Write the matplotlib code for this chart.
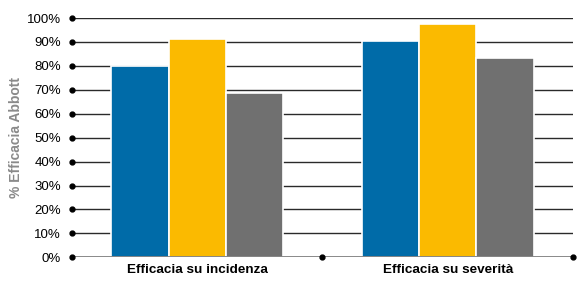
import matplotlib.pyplot as plt
from matplotlib import font_manager
import numpy as np

categorie = ['Efficacia su incidenza', 'Efficacia su severità']
serie_blu = [80.0, 90.3]
serie_gialla = [91.2, 97.6]
serie_grigia = [68.8, 83.2]
tick_y = [0, 10, 20, 30, 40, 50, 60, 70, 80, 90, 100]

nomi = [f.name for f in font_manager.fontManager.ttflist]
font = 'Liberation Sans Narrow' if 'Liberation Sans Narrow' in nomi else 'Liberation Sans'
plt.rcParams['font.family'] = [font, 'DejaVu Sans']

fig = plt.figure(figsize=(5.85, 2.84), dpi=100)
ax = fig.add_axes([0.123, 0.094, 0.8565, 0.8426])

x = np.arange(len(categorie))
w = 0.229
for i, (vals, col) in enumerate([(serie_blu, '#006BA8'),
                                  (serie_gialla, '#FBBA00'),
                                  (serie_grigia, '#707070')]):
    ax.bar(x + (i - 1) * w, vals, w, color=col, edgecolor='white',
           linewidth=1.2, zorder=3)

ax.set_xlim(-0.5, 1.5)
ax.set_ylim(0, 100)

# griglia orizzontale
for t in tick_y[1:]:
    ax.axhline(t, color='#2a2a2a', lw=1.0, zorder=1)
ax.axhline(0, color='#666666', lw=1.8, zorder=4)

# pallini sugli assi
ax.plot([-0.5] * len(tick_y), tick_y, 'o', color='black', ms=3.5,
        clip_on=False, zorder=5)
ax.plot([0.5, 1.5], [0, 0], 'o', color='black', ms=3.5,
        clip_on=False, zorder=5)

for s in ax.spines.values():
    s.set_visible(False)

ax.set_yticks(tick_y)
ax.set_yticklabels([f'{t}%' for t in tick_y], fontsize=9.5)
ax.set_xticks(x)
ax.set_xticklabels(categorie, fontsize=9.7, fontweight='bold')
ax.tick_params(axis='y', length=0, pad=8)
ax.tick_params(axis='x', length=0, pad=5)
ax.set_ylabel('% Efficacia Abbott', fontsize=10, fontweight='bold',
              color='#8a8a8a', labelpad=3)

fig.savefig('out.png', dpi=100)
